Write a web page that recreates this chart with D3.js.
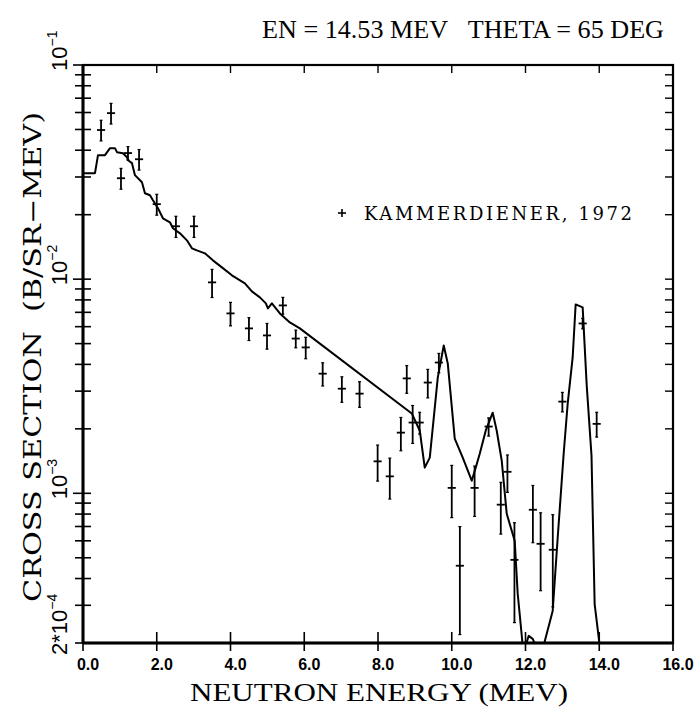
<!DOCTYPE html>
<html>
<head>
<meta charset="utf-8">
<script src="https://cdn.jsdelivr.net/npm/d3@7"></script>
<style>
  html, body { margin: 0; padding: 0; background: #fff; }
  svg { display: block; }
</style>
</head>
<body>
<svg id="chart" width="700" height="713"></svg>
<script>
// ---------------- data ----------------
const titleText = "EN = 14.53 MEV\u00A0\u00A0\u00A0THETA = 65 DEG";
const xLabel = "NEUTRON ENERGY (MEV)";
const yLabel = "CROSS SECTION\u00A0\u00A0(B/SR\u2212MEV)";
const legendText = "KAMMERDIENER, 1972";

const xTicks = [0, 2, 4, 6, 8, 10, 12, 14, 16];
const yMajorTicks = [1e-1, 1e-2, 1e-3];
const yTickLabels = [
  { v: 1e-1, pre: "10", exp: "\u22121" },
  { v: 1e-2, pre: "10", exp: "\u22122" },
  { v: 1e-3, pre: "10", exp: "\u22123" },
  { v: 2e-4, pre: "2*10", exp: "\u22124" }
];

// experimental points (Kammerdiener 1972): energy (MeV), cross section, abs. error
const expE   = [0.49, 0.76, 1.03, 1.22, 1.52, 2.00, 2.52, 3.01, 3.50, 4.00, 4.50, 4.99, 5.42, 5.77, 6.04, 6.50, 7.02, 7.50, 7.99, 8.32, 8.62, 8.78, 8.94, 9.13, 9.35, 9.65, 10.00, 10.22, 10.62, 11.00, 11.33, 11.51, 11.70, 12.20, 12.41, 12.74, 13.00, 13.55, 13.93];
const expXS  = [0.0497, 0.0596, 0.0296, 0.0388, 0.0363, 0.0224, 0.01766, 0.01766, 0.00966, 0.00692, 0.00589, 0.00546, 0.00754, 0.00528, 0.0048, 0.00362, 0.00308, 0.00292, 0.00141, 0.0012, 0.00192, 0.00344, 0.00214, 0.00214, 0.00329, 0.00408, 0.00106, 0.000459, 0.00106, 0.00205, 0.000885, 0.00126, 0.000489, 0.000838, 0.000581, 0.000545, 0.00268, 0.00621, 0.00211];
const expErr = [0.0055, 0.0066, 0.0033, 0.0028, 0.0040, 0.0025, 0.0020, 0.0020, 0.00145, 0.00087, 0.00072, 0.00075, 0.00068, 0.0005, 0.00055, 0.00045, 0.00042, 0.0004, 0.00027, 0.00026, 0.00034, 0.00051, 0.00043, 0.00025, 0.0005, 0.00042, 0.00029, 0.00024, 0.00028, 0.0002, 0.00024, 0.00025, 0.00024, 0.00025, 0.00023, 0.00025, 0.00028, 0.00035, 0.00028];
const expXErr = 0.11;

// calculated curve
const calcE  = [0, 0.325, 0.407, 0.596, 0.732, 0.867, 0.921, 1.084, 1.192, 1.220, 1.328, 1.409, 1.599, 1.680, 1.816, 1.897, 2.033, 2.168, 2.358, 2.439, 2.629, 2.818, 2.954, 3.089, 3.306, 3.523, 3.767, 4.038, 4.390, 4.580, 4.797, 4.959, 5.014, 5.122, 5.339, 5.610, 5.881, 8.916, 9.133, 9.268, 9.404, 9.621, 9.783, 9.892, 10.081, 10.298, 10.542, 10.650, 10.759, 10.921, 11.111, 11.220, 11.355, 11.491, 11.707, 11.789, 11.924, 12.005, 12.087, 12.195, 12.276, 12.493, 12.737, 12.873, 13.035, 13.144, 13.279, 13.360, 13.550, 13.660, 13.790, 13.875, 14.011];
const calcXS = [0.03126, 0.03126, 0.03793, 0.03793, 0.04090, 0.04090, 0.03917, 0.03875, 0.03712, 0.03594, 0.03480, 0.03059, 0.02836, 0.02519, 0.02466, 0.02336, 0.02143, 0.01924, 0.01843, 0.01728, 0.01637, 0.01518, 0.01393, 0.01363, 0.01320, 0.01224, 0.01135, 0.01042, 0.00956, 0.00877, 0.00822, 0.00771, 0.00730, 0.00771, 0.00692, 0.00628, 0.00589, 0.00236, 0.00196, 0.001318, 0.001467, 0.00347, 0.00490, 0.00404, 0.00180, 0.001467, 0.001145, 0.001318, 0.001531, 0.00196, 0.00238, 0.00196, 0.001421, 0.000802, 0.000600, 0.000339, 0.000195, 0.000195, 0.000216, 0.000209, 0.000195, 0.000195, 0.000282, 0.00062, 0.001531, 0.00262, 0.00431, 0.00762, 0.00738, 0.00319, 0.00150, 0.000304, 0.000195];

// ---------------- layout ----------------
const svg = d3.select("#chart");
const L = 83, R = 673, T = 65, B = 643;
const serif = "'DejaVu Serif', 'Liberation Serif', serif";
const serifNarrow = "'Liberation Serif', 'Times New Roman', serif";
const sans = "'Liberation Sans', Arial, sans-serif";

const x = d3.scaleLinear().domain([0, 16]).range([L, R]);
const y = d3.scaleLog().domain([2e-4, 1e-1]).range([B, T]);

svg.append("defs").append("clipPath").attr("id", "clip")
  .append("rect").attr("x", L).attr("y", T).attr("width", R - L).attr("height", B - T);

// minor ticks on log axis
const minorVals = [];
[1e-4, 1e-3, 1e-2].forEach(d => { for (let k = 1; k <= 9; k++) { const v = k * d; if (v >= 2e-4 && v <= 1e-1) minorVals.push(v); } });
minorVals.push(1e-1);

const g = svg.append("g");

// left axis ticks (crossing axis)
g.selectAll(".ly").data(minorVals).enter().append("line")
  .attr("x1", d => yMajorTicks.includes(d) ? L - 10 : L - 8)
  .attr("x2", L + 8)
  .attr("y1", d => y(d)).attr("y2", d => y(d))
  .attr("stroke", "#000").attr("stroke-width", 1.6);
// right axis ticks (inward)
g.selectAll(".ry").data(minorVals).enter().append("line")
  .attr("x1", R - 8).attr("x2", R)
  .attr("y1", d => y(d)).attr("y2", d => y(d))
  .attr("stroke", "#000").attr("stroke-width", 1.4);
// bottom axis ticks (crossing)
g.selectAll(".bx").data(xTicks).enter().append("line")
  .attr("x1", d => x(d)).attr("x2", d => x(d))
  .attr("y1", B - 11).attr("y2", B + 8)
  .attr("stroke", "#000").attr("stroke-width", 1.6);
// top axis ticks (inward)
g.selectAll(".tx").data(xTicks).enter().append("line")
  .attr("x1", d => x(d)).attr("x2", d => x(d))
  .attr("y1", T).attr("y2", T + 8)
  .attr("stroke", "#000").attr("stroke-width", 1.4);

// frame
g.append("rect").attr("x", L).attr("y", T).attr("width", R - L).attr("height", B - T)
  .attr("fill", "none").attr("stroke", "#000").attr("stroke-width", 2.2);
g.append("line").attr("x1", L).attr("x2", L).attr("y1", T).attr("y2", B)
  .attr("stroke", "#000").attr("stroke-width", 3);
g.append("line").attr("x1", L).attr("x2", R).attr("y1", B).attr("y2", B)
  .attr("stroke", "#000").attr("stroke-width", 3);

// x tick labels
g.selectAll(".xl").data(xTicks).enter().append("text")
  .attr("x", d => x(d) + 5).attr("y", B + 27)
  .attr("text-anchor", "middle")
  .attr("font-family", sans).attr("font-weight", "bold").attr("font-size", 16)
  .text(d => d.toFixed(1));

// y tick labels (rotated)
yTickLabels.forEach(t => {
  const yy = y(t.v);
  const txt = g.append("text")
    .attr("transform", `translate(${L - 16},${yy + (t.v === 2e-4 ? 12 : 6)}) rotate(-90)`)
    .attr("text-anchor", "start")
    .attr("font-family", sans).attr("font-size", 22);
  txt.append("tspan").text(t.pre);
  txt.append("tspan").attr("font-size", 14).attr("dy", -10).text(t.exp);
});

// axis titles
svg.append("text").attr("x", 463).attr("y", 38)
  .attr("text-anchor", "middle").attr("font-family", serifNarrow).attr("font-size", 26)
  .attr("textLength", 402).attr("lengthAdjust", "spacingAndGlyphs")
  .text(titleText);
svg.append("text").attr("x", 379).attr("y", 701)
  .attr("text-anchor", "middle").attr("font-family", serifNarrow).attr("font-size", 26)
  .attr("textLength", 378).attr("lengthAdjust", "spacingAndGlyphs")
  .text(xLabel);
svg.append("text").attr("transform", "translate(41,357) rotate(-90)")
  .attr("text-anchor", "middle").attr("font-family", serif).attr("font-size", 24)
  .attr("textLength", 490).attr("lengthAdjust", "spacingAndGlyphs")
  .text(yLabel);

// calculated curve
const line = d3.line().x(d => x(d[0])).y(d => y(d[1]));
const calcData = calcE.map((e, i) => [e, calcXS[i]]);
svg.append("path").datum(calcData)
  .attr("clip-path", "url(#clip)")
  .attr("d", line).attr("fill", "none").attr("stroke", "#000")
  .attr("stroke-width", 2).attr("stroke-linejoin", "round");

// experimental points
const pts = expE.map((e, i) => ({ e, v: expXS[i], err: expErr[i] }));
const pg = svg.append("g").attr("clip-path", "url(#clip)");
pts.forEach(p => {
  const cx = x(p.e), cy = y(p.v);
  const yTop = y(p.v + p.err), yBot = y(Math.max(p.v - p.err, 1.5e-4));
  pg.append("line").attr("x1", cx).attr("x2", cx).attr("y1", yTop).attr("y2", yBot)
    .attr("stroke", "#000").attr("stroke-width", 1.8);
  pg.append("line").attr("x1", x(p.e - expXErr)).attr("x2", x(p.e + expXErr)).attr("y1", cy).attr("y2", cy)
    .attr("stroke", "#000").attr("stroke-width", 1.8);
  [yTop, yBot].forEach(yy => pg.append("line").attr("x1", cx - 1.5).attr("x2", cx + 1.5)
    .attr("y1", yy).attr("y2", yy).attr("stroke", "#000").attr("stroke-width", 1.2));
});

// legend
const lg = svg.append("g");
lg.append("line").attr("x1", 338).attr("x2", 346).attr("y1", 213).attr("y2", 213).attr("stroke", "#000").attr("stroke-width", 1.6);
lg.append("line").attr("x1", 342).attr("x2", 342).attr("y1", 209).attr("y2", 217).attr("stroke", "#000").attr("stroke-width", 1.6);
lg.append("text").attr("x", 364).attr("y", 220)
  .attr("font-family", serif).attr("font-size", 18)
  .attr("textLength", 268).attr("lengthAdjust", "spacing")
  .text(legendText);
</script>
</body>
</html>
